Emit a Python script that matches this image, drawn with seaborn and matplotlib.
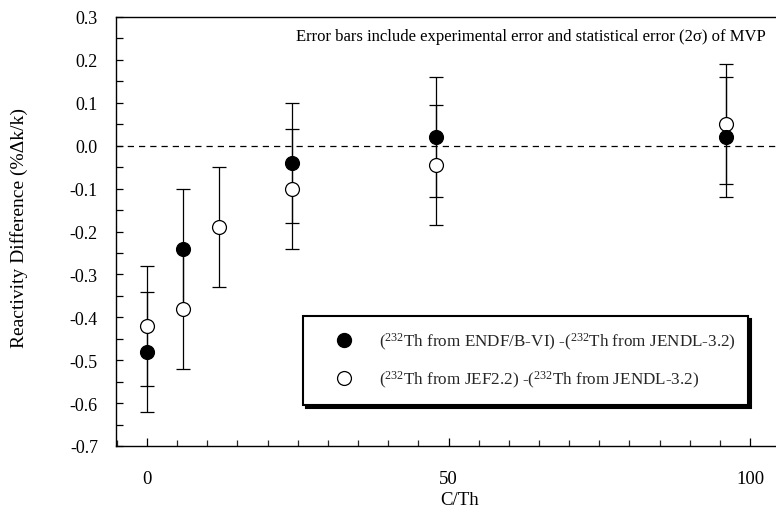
import matplotlib
matplotlib.use("Agg")
import matplotlib.pyplot as plt
from matplotlib.lines import Line2D
from matplotlib.ticker import MultipleLocator
import pandas as pd
import seaborn as sns

# C/Th ratios and reactivity differences (%dk/k) for each library pair
c_th_endf = [0, 6, 24, 48, 96]
diff_endf = [-0.48, -0.24, -0.04, 0.02, 0.02]
err_endf = [0.14, 0.14, 0.14, 0.14, 0.14]

c_th_jef = [0, 6, 12, 24, 48, 96]
diff_jef = [-0.42, -0.38, -0.19, -0.10, -0.045, 0.05]
err_jef = [0.14, 0.14, 0.14, 0.14, 0.14, 0.14]

label_endf = r"($^{232}$Th from ENDF/B-VI) -($^{232}$Th from JENDL-3.2)"
label_jef = r"($^{232}$Th from JEF2.2) -($^{232}$Th from JENDL-3.2)"
note = "Error bars include experimental error and statistical error (2σ) of MVP"

x_ticks = [0, 50, 100]
y_ticks = [0.3, 0.2, 0.1, 0.0, -0.1, -0.2, -0.3, -0.4, -0.5, -0.6, -0.7]

sns.set_theme(style="ticks")
plt.rcParams["font.family"] = ["Liberation Serif", "DejaVu Serif"]
plt.rcParams["mathtext.fontset"] = "custom"
plt.rcParams["mathtext.rm"] = "Liberation Serif"
plt.rcParams["mathtext.it"] = "Liberation Serif:italic"
plt.rcParams["mathtext.bf"] = "Liberation Serif:bold"

df_endf = pd.DataFrame({"C/Th": c_th_endf, "diff": diff_endf, "err": err_endf})
df_jef = pd.DataFrame({"C/Th": c_th_jef, "diff": diff_jef, "err": err_jef})

W, H = 776, 510
fig = plt.figure(figsize=(W / 100, H / 100), dpi=100)
fig.patch.set_facecolor("white")
ax = fig.add_axes([116 / W, 1 - 447 / H, 660 / W, 429 / H])
ax.set_facecolor("white")

# reference line at zero difference
ax.axhline(0.0, color="black", lw=0.9, ls=(0, (5, 4)), zorder=1)

# error bars for both comparisons
for df in (df_jef, df_endf):
    ax.errorbar(df["C/Th"], df["diff"], yerr=df["err"], fmt="none",
                ecolor="black", elinewidth=0.9, capsize=5, capthick=0.9,
                zorder=2)

# open circles: JEF2.2 vs JENDL-3.2
sns.scatterplot(data=df_jef, x="C/Th", y="diff", ax=ax, s=100, marker="o",
                color="white", edgecolor="black", linewidth=0.9, zorder=3,
                legend=False)
# filled circles: ENDF/B-VI vs JENDL-3.2
sns.scatterplot(data=df_endf, x="C/Th", y="diff", ax=ax, s=100, marker="o",
                color="black", edgecolor="black", linewidth=0.9, zorder=4,
                legend=False)

ax.set_xlim(-5.14, 104.3)
ax.set_ylim(-0.7, 0.3)
ax.set_xticks(x_ticks)
ax.set_xticklabels([str(v) for v in x_ticks])
ax.xaxis.set_minor_locator(MultipleLocator(5))
ax.set_yticks(y_ticks)
ax.set_yticklabels([f"{v:.1f}" for v in y_ticks])
ax.yaxis.set_minor_locator(MultipleLocator(0.05))

ax.tick_params(axis="x", which="major", direction="in", length=6, width=0.9,
               pad=17, labelsize=13.5, colors="black")
ax.tick_params(axis="x", which="minor", direction="in", length=4, width=0.9)
ax.tick_params(axis="y", which="both", direction="in", length=5, width=0.9,
               pad=13, labelsize=13, colors="black")

for side in ("left", "bottom", "top"):
    ax.spines[side].set_color("black")
    ax.spines[side].set_linewidth(1.0)
ax.spines["right"].set_visible(False)

ax.set_xlabel("C/Th", fontsize=13.5, color="black")
ax.xaxis.set_label_coords(0.521, -0.104)
ax.set_ylabel("Reactivity Difference (%Δk/k)", fontsize=14, color="black")
ax.yaxis.set_label_coords(-0.134, 0.51)

ax.text(0.985, 0.955, note, transform=ax.transAxes, ha="right", va="center",
        fontsize=12, color="black")

handles = [
    Line2D([], [], ls="none", marker="o", markersize=10,
           markerfacecolor="black", markeredgecolor="black"),
    Line2D([], [], ls="none", marker="o", markersize=10,
           markerfacecolor="white", markeredgecolor="black",
           markeredgewidth=0.9),
]
leg = ax.legend(handles, [label_endf, label_jef], loc="lower left",
                bbox_to_anchor=(0.283, 0.096, 0.675, 0.207), mode="expand",
                borderaxespad=0.0,
                frameon=True, fancybox=False, edgecolor="black",
                facecolor="white", framealpha=1,
                shadow={"color": "black", "alpha": 1},
                borderpad=0.85, labelspacing=1.0, handlelength=3.1,
                handletextpad=0.5, fontsize=12.3)
leg.get_frame().set_linewidth(1.5)

fig.savefig("out.png", dpi=100, facecolor="white")
